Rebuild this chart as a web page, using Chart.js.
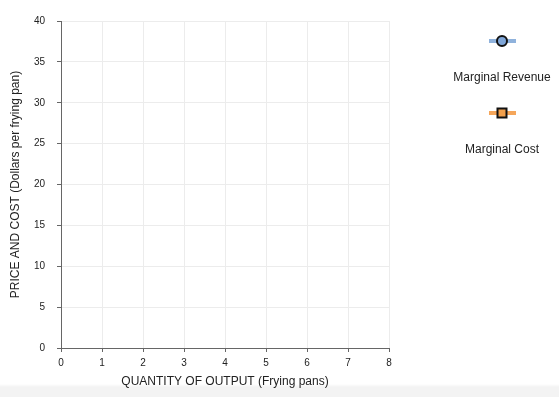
<!DOCTYPE html>
<html>
<head>
<meta charset="utf-8">
<script src="https://cdn.jsdelivr.net/npm/chart.js@4.4.1/dist/chart.umd.min.js"></script>
<style>
  html, body { margin: 0; padding: 0; }
  body {
    width: 559px; height: 397px; overflow: hidden;
    background: linear-gradient(to bottom, #fff 0, #fff 384px, #f3f3f3 387px, #f3f3f3 397px);
  }
  #wrap { position: relative; width: 559px; height: 397px; }
</style>
</head>
<body>
<div id="wrap"><canvas id="chart"></canvas></div>
<script>
// axis ranges / ticks
const xTicks = [0, 1, 2, 3, 4, 5, 6, 7, 8];
const yTicks = [0, 5, 10, 15, 20, 25, 30, 35, 40];

// series (nothing plotted yet in the reference)
const marginalRevenue = [];
const marginalCost = [];

const seriesNames = ['Marginal Revenue', 'Marginal Cost'];

const FONT = '"Liberation Sans", Arial, sans-serif';

// legend drawn to the right: marker on top, label underneath
const sideLegend = {
  id: 'sideLegend',
  afterDraw(chart) {
    const ctx = chart.ctx;
    const cx = 502;
    const rows = [41, 113];
    chart.data.datasets.forEach((ds, i) => {
      const y = rows[i];
      ctx.save();
      ctx.strokeStyle = ds.borderColor;
      ctx.lineWidth = 4;
      ctx.beginPath();
      ctx.moveTo(cx - 13, y);
      ctx.lineTo(cx + 14, y);
      ctx.stroke();
      ctx.fillStyle = ds.pointBackgroundColor;
      ctx.strokeStyle = '#111';
      ctx.lineWidth = 2;
      ctx.beginPath();
      if (ds.pointStyle === 'rect') {
        ctx.rect(cx - 4.5, y - 4.5, 9, 9);
      } else {
        ctx.arc(cx, y, 5, 0, Math.PI * 2);
      }
      ctx.fill();
      ctx.stroke();
      ctx.fillStyle = '#222';
      ctx.font = '12px ' + FONT;
      ctx.textAlign = 'center';
      ctx.textBaseline = 'middle';
      ctx.fillText(ds.label, cx, y + 37);
      ctx.restore();
    });
  }
};

new Chart(document.getElementById('chart'), {
  type: 'line',
  data: {
    datasets: [
      {
        label: seriesNames[0],
        data: marginalRevenue,
        borderColor: '#8fb2dc',
        pointBackgroundColor: '#7fa6d8',
        pointStyle: 'circle',
      },
      {
        label: seriesNames[1],
        data: marginalCost,
        borderColor: '#f5a65a',
        pointBackgroundColor: '#f2a04c',
        pointStyle: 'rect',
      }
    ]
  },
  options: {
    responsive: true,
    maintainAspectRatio: false,
    animation: false,
    layout: { padding: { top: 21, right: 170, left: 0, bottom: 0 } },
    plugins: { legend: { display: false }, tooltip: { enabled: false } },
    scales: {
      x: {
        type: 'linear',
        min: xTicks[0],
        max: xTicks[xTicks.length - 1],
        afterBuildTicks: s => { s.ticks = xTicks.map(v => ({ value: v })); },
        afterFit: s => { s.height = 49; },
        border: { color: '#666', width: 1 },
        grid: { color: '#ececec', tickColor: '#666', tickLength: 4 },
        ticks: { color: '#222', font: { family: FONT, size: 10 }, padding: 5, maxRotation: 0 },
        title: {
          display: true,
          text: 'QUANTITY OF OUTPUT (Frying pans)',
          color: '#222',
          font: { family: FONT, size: 12 },
          padding: { top: 0, bottom: 8 }
        }
      },
      y: {
        type: 'linear',
        min: yTicks[0],
        max: yTicks[yTicks.length - 1],
        afterBuildTicks: s => { s.ticks = yTicks.map(v => ({ value: v })); },
        afterFit: s => { s.width = 61; },
        border: { color: '#666', width: 1 },
        grid: { color: '#ececec', tickColor: '#666', tickLength: 4 },
        ticks: { color: '#222', font: { family: FONT, size: 10 }, padding: 12 },
        title: {
          display: true,
          text: 'PRICE AND COST (Dollars per frying pan)',
          color: '#222',
          font: { family: FONT, size: 12 },
          padding: { top: 8, bottom: 0 }
        }
      }
    }
  },
  plugins: [sideLegend]
});
</script>
</body>
</html>
